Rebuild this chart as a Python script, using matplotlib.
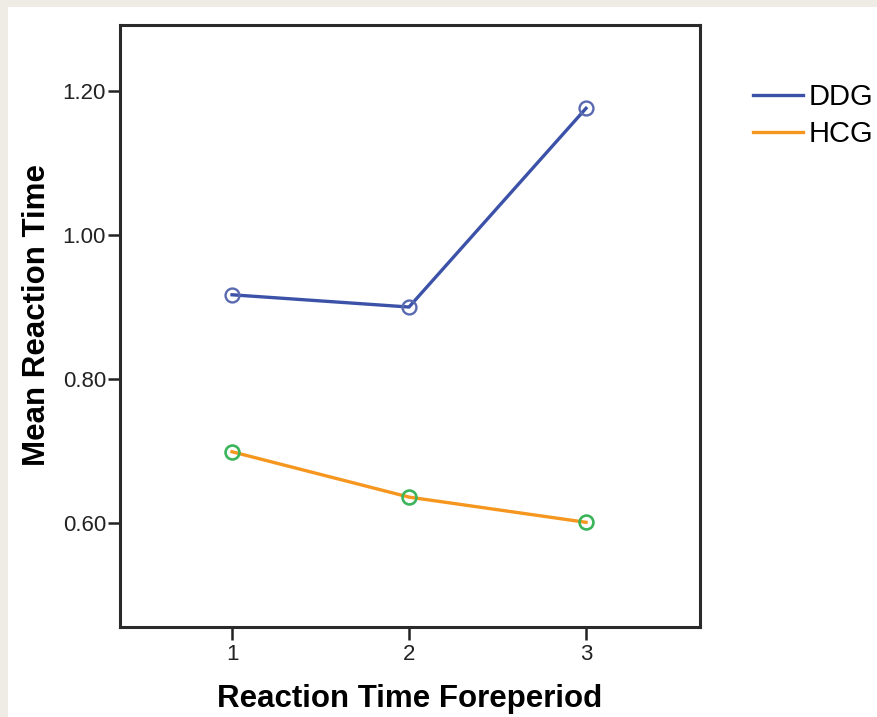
import matplotlib
matplotlib.use("Agg")
import matplotlib.pyplot as plt
from matplotlib.patches import Rectangle

plt.rcParams['font.family'] = ['Liberation Sans', 'DejaVu Sans']

foreperiod = [1, 2, 3]
ddg_rt = [0.917, 0.900, 1.176]
hcg_rt = [0.699, 0.636, 0.601]
y_ticks = [0.60, 0.80, 1.00, 1.20]

fig = plt.figure(figsize=(8.78, 7.17), dpi=100)
fig.patch.set_facecolor('#efece5')
# white panel inset from the beige border
fig.patches.append(Rectangle((8 / 878, 0), 1, 1 - 7 / 717, transform=fig.transFigure,
                             facecolor='white', edgecolor='none', zorder=-5))

ax = fig.add_axes([120 / 878, 90 / 717, 580 / 878, 602 / 717])
ax.set_zorder(1)
ax.plot(foreperiod, ddg_rt, color='#3c52a8', lw=2.4, label='DDG', zorder=2)
ax.plot(foreperiod, hcg_rt, color='#f5961e', lw=2.4, label='HCG', zorder=2)
ax.plot(foreperiod, ddg_rt, 'o', ms=10, mfc='none', mec='#5a6ab0', mew=1.7, zorder=3)
ax.plot(foreperiod, hcg_rt, 'o', ms=10, mfc='none', mec='#3cb45a', mew=1.9, zorder=3)

ax.set_xlim(0.367, 3.644)
ax.set_ylim(0.4556, 1.2917)
ax.set_xticks(foreperiod)
ax.set_xticklabels([str(v) for v in foreperiod])
ax.set_yticks(y_ticks)
ax.set_yticklabels(['%.2f' % v for v in y_ticks])
ax.tick_params(direction='out', length=9, width=1.8, labelsize=16, colors='#222222', pad=1)
ax.tick_params(axis='x', pad=3)

for s in ax.spines.values():
    s.set_linewidth(2.2)
    s.set_color('#2a2a2a')

ax.set_xlabel('Reaction Time Foreperiod', fontsize=22.5, fontweight='bold', labelpad=14)
ax.set_ylabel('Mean Reaction Time', fontsize=22.5, fontweight='bold')
ax.yaxis.set_label_coords(-0.118, 0.518)

leg = fig.legend(loc='upper left', bbox_to_anchor=(753 / 878, 1 - 83 / 717), frameon=False,
                 fontsize=21, handlelength=1.7, handletextpad=0.22, labelspacing=0.32,
                 borderaxespad=0, borderpad=0)

fig.savefig('out.png', dpi=100)
